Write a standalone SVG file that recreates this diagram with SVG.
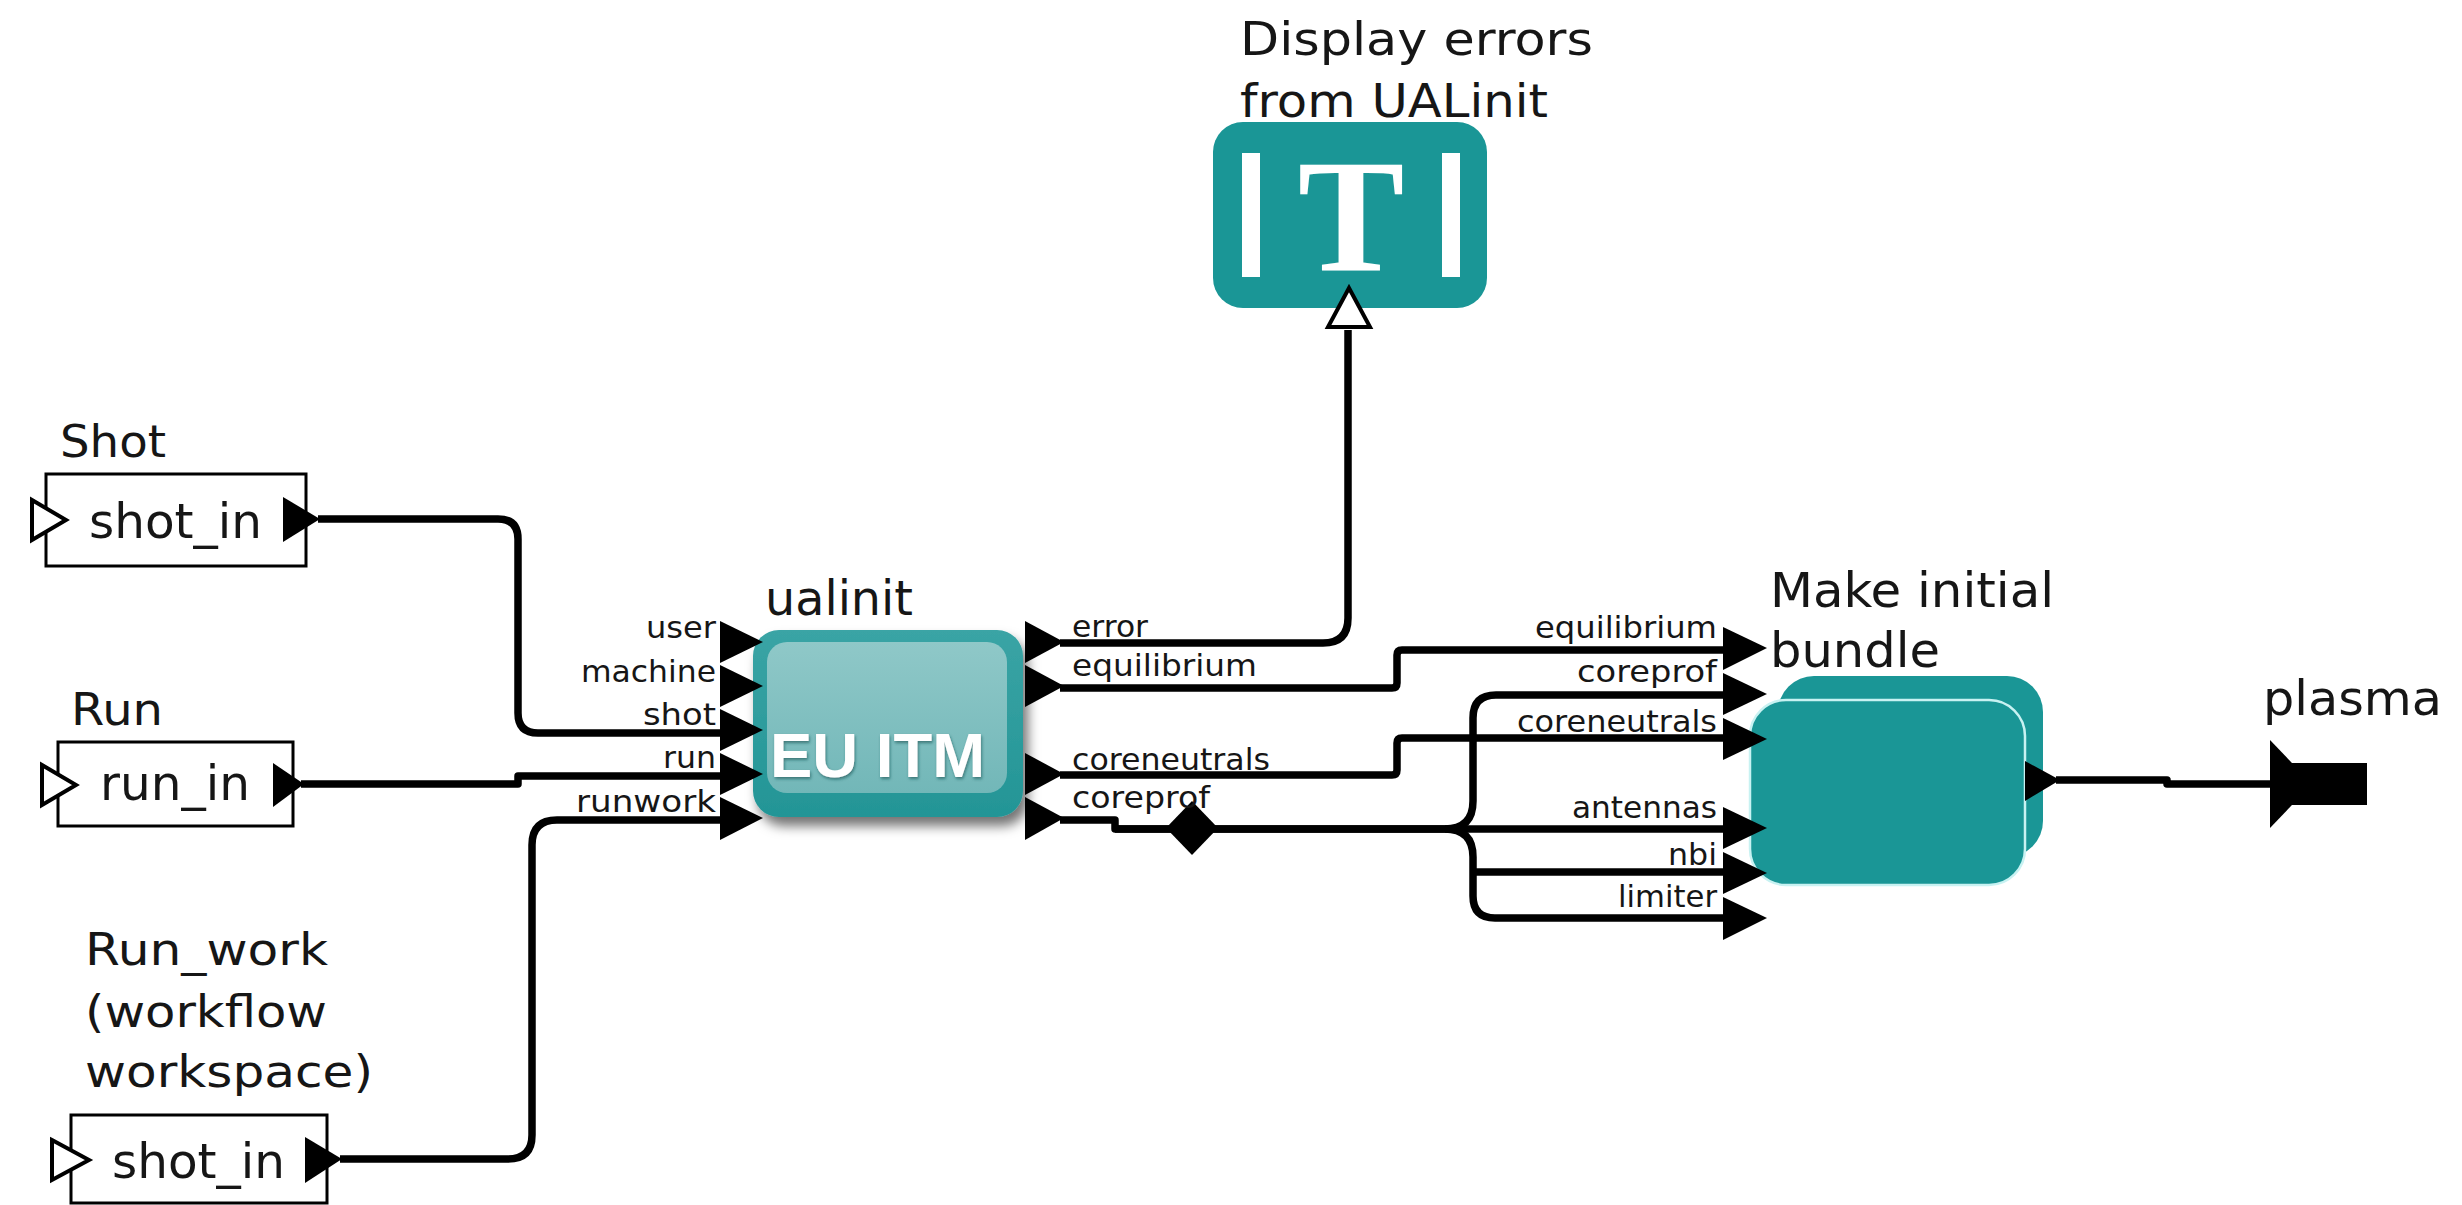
<svg xmlns="http://www.w3.org/2000/svg" width="2462" height="1205" viewBox="0 0 2462 1205">
  <defs>
    <style>
      .lbl{font-family:"DejaVu Sans","Liberation Sans",sans-serif;font-size:44px;fill:#161616}
      .port{font-family:"DejaVu Sans","Liberation Sans",sans-serif;font-size:31px;fill:#161616}
      .wire{fill:none;stroke:#000;stroke-width:7.5;stroke-linejoin:round;stroke-linecap:butt}
      .tri{fill:#000}
      .open{fill:#fff;stroke:#000;stroke-width:4;stroke-linejoin:miter}
      .pbox{fill:#fff;stroke:#000;stroke-width:3}
      .teal{fill:#1a9696}
    </style>
    <linearGradient id="actorInner" x1="0" y1="0" x2="0" y2="1">
      <stop offset="0" stop-color="#8fc8c8"/>
      <stop offset="1" stop-color="#72b7b8"/>
    </linearGradient>
    <linearGradient id="actorOuter" x1="0" y1="0" x2="0" y2="1">
      <stop offset="0" stop-color="#3aa4a5"/>
      <stop offset="1" stop-color="#239596"/>
    </linearGradient>
    <filter id="shadow" x="-20%" y="-20%" width="150%" height="150%">
      <feDropShadow dx="5" dy="9" stdDeviation="6" flood-color="#000" flood-opacity="0.55"/>
    </filter>
    <filter id="txtShadow" x="-10%" y="-20%" width="130%" height="150%">
      <feDropShadow dx="1" dy="2" stdDeviation="1.5" flood-color="#0a4c4c" flood-opacity="0.6"/>
    </filter>
  </defs>

  <!-- connectors -->
  <g id="connectors">
    <!-- Shot -> ualinit.shot -->
    <path class="wire" d="M318,519 H498 Q518,519 518,539 V713 Q518,733 538,733 H724"/>
    <!-- Run -> ualinit.run -->
    <path class="wire" d="M301,784 H518 V776 H724"/>
    <!-- Run_work -> ualinit.runwork -->
    <path class="wire" d="M340,1159 H508 Q532,1159 532,1135 V845 Q532,820 557,820 H724"/>
    <!-- ualinit.error -> display -->
    <path class="wire" d="M1060,643 H1323 Q1348,643 1348,618 V330"/>
    <!-- ualinit.equilibrium -> bundle.equilibrium -->
    <path class="wire" d="M1060,688 H1392 Q1397,688 1397,683 V655 Q1397,650 1402,650 H1726"/>
    <!-- ualinit.coreneutrals -> bundle.coreneutrals -->
    <path class="wire" d="M1060,775 H1392 Q1397,775 1397,770 V743 Q1397,738 1402,738 H1726"/>
    <!-- ualinit.coreprof fan-out -->
    <path class="wire" d="M1060,820 H1115 V829 H1726"/>
    <path class="wire" d="M1115,829 H1445 Q1473,829 1473,801 V718 Q1473,695 1496,695 H1726"/>
    <path class="wire" d="M1445,829 Q1473,829 1473,857 V896 Q1473,918 1495,918 H1726"/>
    <path class="wire" d="M1473,872 H1726"/>
    <!-- bundle -> plasma -->
    <path class="wire" d="M2056,780 H2167 V784 H2274"/>
    <!-- relation diamond -->
    <polygon class="tri" points="1192,801 1218,828 1192,855 1166,828"/>
  </g>

  <!-- Shot parameter -->
  <g id="shot">
    <text class="lbl" x="60" y="457" textLength="106" lengthAdjust="spacingAndGlyphs">Shot</text>
    <rect class="pbox" x="46" y="474" width="260" height="92"/>
    <text class="lbl" x="89" y="538" textLength="173" lengthAdjust="spacingAndGlyphs" style="font-size:48px">shot_in</text>
    <polygon class="open" points="32,500 66,520 32,540"/>
    <polygon class="tri" points="283,497 320,519 283,542"/>
  </g>

  <!-- Run parameter -->
  <g id="run">
    <text class="lbl" x="71" y="725" textLength="92" lengthAdjust="spacingAndGlyphs">Run</text>
    <rect class="pbox" x="58" y="742" width="235" height="84"/>
    <text class="lbl" x="100" y="800" textLength="150" lengthAdjust="spacingAndGlyphs" style="font-size:48px">run_in</text>
    <polygon class="open" points="42,765 76,785 42,805"/>
    <polygon class="tri" points="273,763 304,784 273,807"/>
  </g>

  <!-- Run_work parameter -->
  <g id="run_work">
    <text class="lbl" x="85" y="965" textLength="243" lengthAdjust="spacingAndGlyphs">Run_work</text>
    <text class="lbl" x="85" y="1027" textLength="242" lengthAdjust="spacingAndGlyphs">(workflow</text>
    <text class="lbl" x="85" y="1087" textLength="288" lengthAdjust="spacingAndGlyphs">workspace)</text>
    <rect class="pbox" x="71" y="1115" width="256" height="88"/>
    <text class="lbl" x="112" y="1178" textLength="173" lengthAdjust="spacingAndGlyphs" style="font-size:48px">shot_in</text>
    <polygon class="open" points="52,1140 89,1160 52,1180"/>
    <polygon class="tri" points="305,1137 342,1159 305,1183"/>
  </g>

  <!-- ualinit actor -->
  <g id="ualinit">
    <text class="lbl" x="765" y="615" textLength="148" lengthAdjust="spacingAndGlyphs" style="font-size:48px">ualinit</text>
    <rect x="753" y="630" width="270" height="187" rx="26" fill="url(#actorOuter)" filter="url(#shadow)"/>
    <rect x="767" y="642" width="240" height="151" rx="20" fill="url(#actorInner)"/>
    <text x="770" y="777" font-family="'Liberation Sans',Arial,sans-serif" font-weight="bold" font-size="63" fill="#fff" textLength="215" lengthAdjust="spacingAndGlyphs" filter="url(#txtShadow)">EU ITM</text>
    <!-- input ports -->
    <polygon class="tri" points="720,621 763,642 720,663"/>
    <polygon class="tri" points="720,665 763,686 720,707"/>
    <polygon class="tri" points="720,709 763,730 720,751"/>
    <polygon class="tri" points="720,753 763,774 720,795"/>
    <polygon class="tri" points="720,797 763,818 720,840"/>
    <text class="port" x="716" y="638" text-anchor="end" textLength="70" lengthAdjust="spacingAndGlyphs">user</text>
    <text class="port" x="716" y="682" text-anchor="end" textLength="135" lengthAdjust="spacingAndGlyphs">machine</text>
    <text class="port" x="716" y="725" text-anchor="end" textLength="73" lengthAdjust="spacingAndGlyphs">shot</text>
    <text class="port" x="716" y="768" text-anchor="end" textLength="53" lengthAdjust="spacingAndGlyphs">run</text>
    <text class="port" x="716" y="812" text-anchor="end" textLength="140" lengthAdjust="spacingAndGlyphs">runwork</text>
    <!-- output ports -->
    <polygon class="tri" points="1025,621 1064,642 1025,663"/>
    <polygon class="tri" points="1025,665 1064,686 1025,707"/>
    <polygon class="tri" points="1025,753 1064,774 1025,795"/>
    <polygon class="tri" points="1025,797 1064,818 1025,840"/>
    <text class="port" x="1072" y="637" textLength="76" lengthAdjust="spacingAndGlyphs">error</text>
    <text class="port" x="1072" y="676" textLength="185" lengthAdjust="spacingAndGlyphs">equilibrium</text>
    <text class="port" x="1072" y="770" textLength="198" lengthAdjust="spacingAndGlyphs">coreneutrals</text>
    <text class="port" x="1072" y="808" textLength="138" lengthAdjust="spacingAndGlyphs">coreprof</text>
  </g>

  <!-- Display errors actor -->
  <g id="display">
    <text class="lbl" x="1240" y="55" textLength="353" lengthAdjust="spacingAndGlyphs" style="font-size:46px">Display errors</text>
    <text class="lbl" x="1240" y="117" textLength="308" lengthAdjust="spacingAndGlyphs" style="font-size:46px">from UALinit</text>
    <rect class="teal" x="1213" y="122" width="274" height="186" rx="30"/>
    <rect x="1242" y="153" width="18" height="124" fill="#fff"/>
    <rect x="1442" y="153" width="18" height="124" fill="#fff"/>
    <text x="1351" y="270" text-anchor="middle" font-family="'Liberation Serif','Times New Roman',serif" font-weight="bold" font-size="160" fill="#fff">T</text>
    <polygon class="open" points="1349,288 1328,327 1370,327"/>
  </g>

  <!-- Make initial bundle composite -->
  <g id="bundle">
    <text class="lbl" x="1770" y="607" textLength="284" lengthAdjust="spacingAndGlyphs" style="font-size:48px">Make initial</text>
    <text class="lbl" x="1770" y="667" textLength="170" lengthAdjust="spacingAndGlyphs" style="font-size:48px">bundle</text>
    <rect class="teal" x="1778" y="676" width="265" height="181" rx="36"/>
    <rect class="teal" x="1750" y="700" width="275" height="185" rx="36" stroke="#c8f2f2" stroke-width="2.5"/>
    <polygon class="tri" points="1723,627 1767,648 1723,670"/>
    <polygon class="tri" points="1723,673 1767,694 1723,715"/>
    <polygon class="tri" points="1723,718 1767,739 1723,760"/>
    <polygon class="tri" points="1723,807 1767,828 1723,849"/>
    <polygon class="tri" points="1723,852 1767,873 1723,894"/>
    <polygon class="tri" points="1723,897 1767,918 1723,940"/>
    <text class="port" x="1717" y="638" text-anchor="end" textLength="182" lengthAdjust="spacingAndGlyphs">equilibrium</text>
    <text class="port" x="1717" y="682" text-anchor="end" textLength="140" lengthAdjust="spacingAndGlyphs">coreprof</text>
    <text class="port" x="1717" y="732" text-anchor="end" textLength="200" lengthAdjust="spacingAndGlyphs">coreneutrals</text>
    <text class="port" x="1717" y="818" text-anchor="end" textLength="145" lengthAdjust="spacingAndGlyphs">antennas</text>
    <text class="port" x="1717" y="865" text-anchor="end" textLength="49" lengthAdjust="spacingAndGlyphs">nbi</text>
    <text class="port" x="1717" y="907" text-anchor="end" textLength="99" lengthAdjust="spacingAndGlyphs">limiter</text>
    <polygon class="tri" points="2025,761 2060,780 2025,801"/>
  </g>

  <!-- plasma output port -->
  <g id="plasma">
    <text class="lbl" x="2263" y="715" textLength="179" lengthAdjust="spacingAndGlyphs" style="font-size:48px">plasma</text>
    <polygon class="tri" points="2270,740 2312,784 2270,828"/>
    <rect class="tri" x="2290" y="763" width="77" height="42"/>
  </g>
</svg>
